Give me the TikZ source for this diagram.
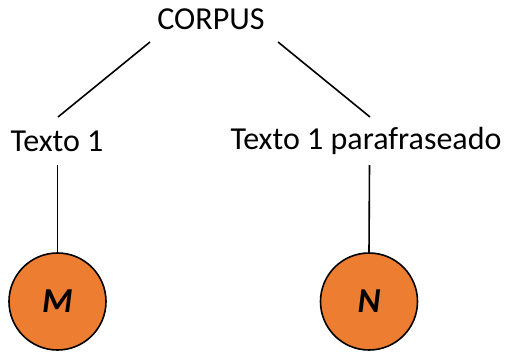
\documentclass[tikz,border=0pt]{standalone}
\usepackage{fontspec}
\setmainfont{Carlito}
\definecolor{offorange}{HTML}{ED7D31}
\begin{document}
\begin{tikzpicture}[x=1pt,y=-1pt,
  lbl/.style={inner sep=0pt,font=\fontsize{32}{38}\selectfont},
  ball/.style={circle,draw=black,line width=1.6pt,fill=offorange,minimum size=97pt,inner sep=0pt,font=\fontsize{35}{40}\selectfont\bfseries\itshape},
  link/.style={line width=1.6pt}]
\useasboundingbox (0,0) rectangle (505,353);
\node[lbl] (corpus) at (211,19) {CORPUS};
\node[lbl] (t1) at (57,141) {Texto 1};
\node[lbl] (t2) at (366,141) {Texto 1 parafraseado};
\node[ball] (m) at (57.5,301.5) {M};
\node[ball] (n) at (369,301.5) {N};
\coordinate (c1) at (150,42);
\coordinate (c2) at (278,42);
\coordinate (e1) at (58,117);
\coordinate (e2) at (370,117);
\coordinate (s1) at (57.5,165);
\coordinate (s2) at (369.5,165);
\draw[link] (c1) -- (e1);
\draw[link] (c2) -- (e2);
\draw[link] (s1) -- (m.north);
\draw[link] (s2) -- (n.north);
\end{tikzpicture}
\end{document}
